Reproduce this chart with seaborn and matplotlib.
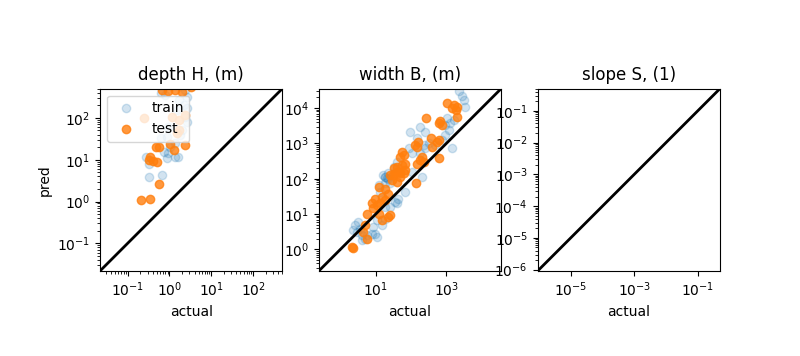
import numpy as np
import matplotlib
matplotlib.use("Agg")
import matplotlib.pyplot as plt
import seaborn as sns

# ---------------- data ----------------
titles = ["depth H, (m)", "width B, (m)", "slope S, (1)"]

# log10 limits of each (square) panel, same for x and y
panel_lims = [(-1.66, 2.70), (-0.61, 4.55), (-6.04, -0.30)]

# depth H
H_train_actual = [0.32, 0.66, 0.27, 0.87, 1.38, 0.95, 0.62, 1.05, 1.38, 0.87,
                  1.82, 2.0, 2.63, 2.4, 2.19, 2.63, 2.63, 2.4, 0.62, 0.79,
                  0.32, 1.58, 1.66, 1.5, 0.95, 0.74]
H_train_pred = [3.9, 4.3, 11.7, 10.7, 11.7, 14.1, 32.4, 20.4, 24.5, 35.5,
                38.9, 51.3, 81.3, 107, 204, 170, 324, 468, 389, 355,
                8.1, 11.7, 270, 155, 62, 15.5]
H_test_actual = [0.21, 0.35, 0.56, 0.35, 0.40, 0.50, 0.32, 0.47, 0.56, 1.05,
                 1.26, 2.3, 1.5, 1.74, 2.3, 0.245, 1.66, 0.66, 0.95, 1.38,
                 2.0, 3.2, 1.15]
H_test_pred = [1.07, 1.15, 2.6, 11.7, 9.3, 8.9, 9.8, 20.4, 20.4, 23.4,
               17.0, 21.9, 42.7, 51.3, 117, 100, 89, 468, 447, 468,
               427, 560, 105]

# width B
B_train_actual = [2239, 2754, 3090, 3467, 1047, 1288, 1622, 933, 1175, 933,
                  1445, 182, 95, 251, 148, 316, 229, 490, 759, 85,
                  105, 251, 182, 40, 32, 18.6, 22.9, 105, 204, 16.6,
                  20.4, 25.7, 18.6, 69, 43.6, 39.8, 12, 13.2, 18.6, 10.7,
                  14.8, 18.6, 8.5, 3.2, 2.6, 2.3, 3.6, 2.9, 4.0, 5.5,
                  9.5, 10.7, 4.0, 5.0, 7.8, 25.7, 35.5, 17.8, 22.4]
B_train_pred = [29500, 21400, 17000, 10960, 5130, 3715, 4570, 3311, 2399, 1738,
                724, 2951, 2138, 2138, 1380, 1000, 891, 891, 1259, 724,
                525, 724, 525, 302, 219, 112, 141, 158, 112, 126,
                102, 74, 74, 42.7, 27.5, 20, 66, 42.7, 15.8, 6.6,
                4.8, 7.4, 4.3, 6.0, 4.8, 3.5, 3.9, 3.1, 2.5, 2.5,
                2.8, 2.2, 1.8, 2.0, 2.8, 15.8, 21.9, 112, 100]
B_test_actual = [1047, 1622, 2042, 1820, 1445, 2042, 269, 603, 759, 676,
                 355, 537, 603, 389, 603, 162, 132, 148, 55, 62,
                 49, 204, 182, 148, 229, 69, 55, 40, 32, 69,
                 49, 35.5, 25.7, 43.6, 61.7, 31.6, 28.2, 39.8, 49, 141,
                 12.0, 18.6, 22.9, 14.8, 9.5, 18.6, 7.8, 10.7, 13.2, 8.5,
                 5.5, 12.0, 14.8, 22.9, 25.7, 5.0, 4.5, 5.5, 2.3, 2.1]
B_test_pred = [13800, 12300, 10960, 8910, 10000, 5750, 5370, 3715, 3311, 4169,
               1445, 1122, 1259, 813, 380, 1122, 891, 813, 575, 468,
               417, 417, 339, 269, 302, 269, 245, 219, 195, 174,
               141, 141, 126, 158, 141, 126, 91, 81, 112, 74,
               58.9, 52.5, 38, 30.9, 27.5, 24.5, 20, 17.8, 20, 14.5,
               10.2, 10.2, 6.6, 8.3, 9.3, 4.8, 3.1, 2.0, 1.12, 1.17]

# slope S (no points visible)
S_train_actual, S_train_pred = [], []
S_test_actual, S_test_pred = [], []

train_sets = [(H_train_actual, H_train_pred), (B_train_actual, B_train_pred),
              (S_train_actual, S_train_pred)]
test_sets = [(H_test_actual, H_test_pred), (B_test_actual, B_test_pred),
             (S_test_actual, S_test_pred)]

# ---------------- plot ----------------
fig, axes = plt.subplots(1, 3, figsize=(8, 3.56), dpi=100)

for i, ax in enumerate(axes):
    tr_x, tr_y = train_sets[i]
    te_x, te_y = test_sets[i]
    if len(tr_x):
        sns.scatterplot(x=tr_x, y=tr_y, ax=ax, color="C0", alpha=0.2,
                        s=36, edgecolor="face", linewidth=1, label="train",
                        legend=False)
    if len(te_x):
        sns.scatterplot(x=te_x, y=te_y, ax=ax, color="C1", alpha=0.8,
                        s=36, edgecolor="face", linewidth=1, label="test",
                        legend=False)
    lo, hi = panel_lims[i]
    lims = [10 ** lo, 10 ** hi]
    ax.set_xscale("log")
    ax.set_yscale("log")
    ax.plot(lims, lims, color="k", lw=2)
    ax.set_xlim(lims)
    ax.set_ylim(lims)
    ax.set_box_aspect(1)
    ax.set_title(titles[i])
    ax.set_xlabel("actual")

axes[0].set_ylabel("pred")
axes[0].legend(loc="upper left")

fig.savefig("out.png", dpi=100)
